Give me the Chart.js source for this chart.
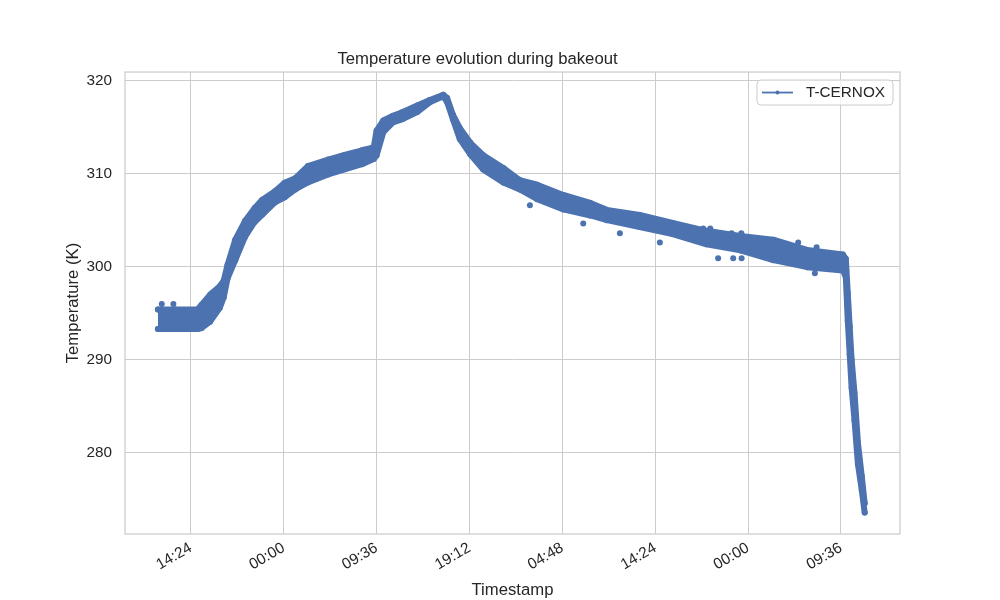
<!DOCTYPE html>
<html>
<head>
<meta charset="utf-8">
<script src="https://cdn.jsdelivr.net/npm/chart.js@4.4.1/dist/chart.umd.min.js"></script>
<style>
  html, body { margin: 0; padding: 0; background: #fff; }
  #wrap { width: 1000px; height: 600px; }
</style>
</head>
<body>
<div id="wrap"><canvas id="bakeoutChart" width="1000" height="600"></canvas></div>
<script>
// time axis: hours counted from 00:00 of the first day
const hours = [11.0, 12.8, 15.1, 15.5, 16.4, 17.4, 17.8, 18.2, 19.0, 20.0,
    21.0, 21.8, 23.1, 24.1, 25.2, 26.5, 28.6, 30.3, 32.1, 33.3,
    33.6, 34.3, 35.3, 36.3, 37.8, 39.1, 40.5, 40.9, 41.5, 42.2,
    43.3, 44.6, 46.7, 48.4, 50.2, 52.9, 55.7, 57.4, 60.8, 64.2,
    67.7, 71.2, 74.6, 78.1, 81.8, 82.1, 82.3, 82.5, 82.7, 83.0,
    83.35, 83.75, 84.05];
// top and bottom of the noisy sensor band (K)
const upperK = [295.4, 295.4, 295.4, 295.9, 297.0, 297.9, 298.5, 300.2, 302.9, 304.9,
    306.3, 307.2, 308.1, 309.0, 309.5, 310.8, 311.5, 312.0, 312.5, 312.8,
    314.6, 315.7, 316.2, 316.6, 317.3, 317.9, 318.45, 318.1, 316.3, 314.9,
    313.3, 312.0, 310.6, 309.3, 308.8, 307.7, 306.85, 306.1, 305.55, 304.7,
    303.85, 303.3, 302.9, 301.8, 301.3, 300.85, 297.2, 293.6, 290.0, 286.45,
    281.1, 277.5, 274.6];
const lowerK = [293.3, 293.3, 293.3, 293.4, 294.1, 295.6, 296.7, 298.75, 300.7, 303.2,
    304.8, 305.6, 306.9, 307.45, 308.3, 309.05, 309.9, 310.45, 311.0, 311.55,
    311.95, 314.45, 315.5, 315.85, 316.6, 317.65, 318.3, 317.65, 315.8, 313.7,
    312.05, 310.45, 309.05, 308.3, 307.25, 306.15, 305.5, 305.0, 304.25, 303.5,
    302.4, 301.75, 300.7, 299.95, 299.6, 298.9, 294.2, 290.6, 287.0, 283.5,
    278.8, 276.0, 273.6];
// isolated readings outside the band
const outlierHours = [11.4, 12.6, 49.45, 54.96, 58.75, 62.88, 68.9, 70.46, 71.33, 78.9,
    67.36, 68.09, 70.3, 71.3, 77.18, 79.08];
const outlierK = [296.0, 296.0, 306.6, 304.65, 303.6, 302.6, 300.9, 300.9, 300.9, 299.3,
    304.1, 304.1, 303.6, 303.6, 302.6, 302.1];

const xTickHours = [14.4, 24, 33.6, 43.2, 52.8, 62.4, 72, 81.6];
const xTickLabels = ['14:24', '00:00', '09:36', '19:12', '04:48', '14:24', '00:00', '09:36'];
const yTicks = [280, 290, 300, 310, 320];

const BLUE = '#4c72b0';
const INK = '#262626';
const GRID = '#cccccc';
const FONT = '"Liberation Sans", Arial, sans-serif';

Chart.defaults.font.family = FONT;
Chart.defaults.color = INK;

function toPoints(xs, ys) {
    return xs.map((x, i) => ({ x: x, y: ys[i] }));
}

// frame around the plot (all four sides, like the seaborn whitegrid spines)
const frame = {
    id: 'frame',
    afterDatasetsDraw(chart) {
        const { ctx, chartArea: a } = chart;
        ctx.save();
        ctx.strokeStyle = GRID;
        ctx.lineWidth = 1.25;
        ctx.strokeRect(a.left, a.top, a.right - a.left, a.bottom - a.top);
        ctx.restore();
    }
};

// legend drawn inside the plot, upper right
const innerLegend = {
    id: 'innerLegend',
    afterDraw(chart) {
        const { ctx, chartArea: a } = chart;
        const ds = chart.data.datasets[0];
        ctx.save();
        ctx.font = '15.3px ' + FONT;
        const textW = ctx.measureText(ds.label).width;
        const w = 5 + 31 + 13 + textW + 8;
        const h = 25;
        const x = a.right - 7 - w;
        const y = a.top + 8;
        ctx.beginPath();
        ctx.roundRect(x, y, w, h, 4);
        ctx.fillStyle = 'rgba(255,255,255,0.8)';
        ctx.fill();
        ctx.strokeStyle = GRID;
        ctx.lineWidth = 1;
        ctx.stroke();
        const my = y + h / 2;
        ctx.strokeStyle = BLUE;
        ctx.lineWidth = 1.8;
        ctx.beginPath();
        ctx.moveTo(x + 5, my);
        ctx.lineTo(x + 36, my);
        ctx.stroke();
        ctx.fillStyle = BLUE;
        ctx.beginPath();
        ctx.arc(x + 20.5, my, 2, 0, Math.PI * 2);
        ctx.fill();
        ctx.fillStyle = INK;
        ctx.textBaseline = 'middle';
        ctx.fillText(ds.label, x + 49, my + 0.5);
        ctx.restore();
    }
};

const bandStyle = {
    borderColor: BLUE,
    backgroundColor: BLUE,
    borderWidth: 6,
    borderJoinStyle: 'round',
    borderCapStyle: 'round',
    pointRadius: 3,
    pointBorderWidth: 0,
    pointBackgroundColor: BLUE,
    tension: 0
};

new Chart(document.getElementById('bakeoutChart'), {
    type: 'line',
    data: {
        datasets: [
            { ...bandStyle, label: 'T-CERNOX', data: toPoints(hours, upperK), fill: false },
            { ...bandStyle, label: 'lower', data: toPoints(hours, lowerK), fill: '-1' },
            {
                label: 'outliers',
                data: toPoints(outlierHours, outlierK),
                showLine: false,
                pointRadius: 3,
                pointBorderWidth: 0,
                pointBackgroundColor: BLUE,
                borderColor: BLUE
            }
        ]
    },
    options: {
        responsive: false,
        animation: false,
        devicePixelRatio: 1,
        layout: { padding: { left: 55, right: 100, top: 0, bottom: 0 } },
        scales: {
            x: {
                type: 'linear',
                min: 7.6,
                max: 87.7,
                afterBuildTicks: scale => { scale.ticks = xTickHours.map(v => ({ value: v })); },
                afterFit: scale => { scale.height = 66; },
                ticks: {
                    color: INK,
                    font: { size: 15.3 },
                    minRotation: 30,
                    maxRotation: 30,
                    padding: 5,
                    callback: (v, i) => xTickLabels[i]
                },
                grid: { color: GRID, lineWidth: 1, drawTicks: false },
                border: { display: false },
                title: { display: true, text: 'Timestamp', color: INK, font: { size: 16.7 }, padding: { top: 0, bottom: 0 } }
            },
            y: {
                type: 'linear',
                min: 271.3,
                max: 320.9,
                afterBuildTicks: scale => { scale.ticks = yTicks.map(v => ({ value: v })); },
                afterFit: scale => { scale.width = 70; },
                ticks: { color: INK, font: { size: 15.3 }, padding: 13 },
                grid: { color: GRID, lineWidth: 1, drawTicks: false },
                border: { display: false },
                title: { display: true, text: 'Temperature (K)', color: INK, font: { size: 16.7 }, padding: { top: 8, bottom: 0 } }
            }
        },
        plugins: {
            legend: { display: false },
            tooltip: { enabled: false },
            title: {
                display: true,
                text: 'Temperature evolution during bakeout',
                color: INK,
                font: { size: 16.7, weight: 'normal' },
                padding: { top: 49, bottom: 3 }
            }
        }
    },
    plugins: [frame, innerLegend]
});
</script>
</body>
</html>
